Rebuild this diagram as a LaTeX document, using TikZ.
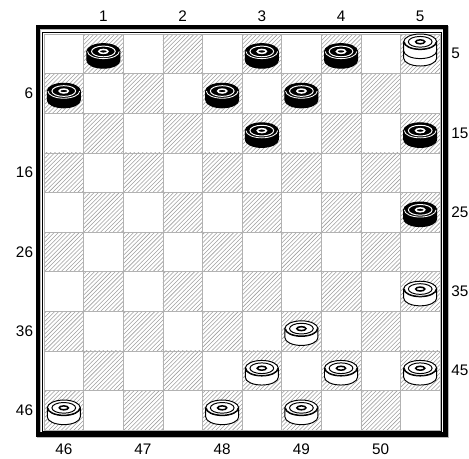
\documentclass[tikz,border=0pt]{standalone}
\usepackage{fontspec}
\setmainfont{Liberation Sans}
\usetikzlibrary{patterns}
\tikzset{
  casilla/.style={draw=gray!60, line width=0.4pt},
  casillaoscura/.style={casilla, pattern=north east lines, pattern color=gray!75},
  numero/.style={font=\fontsize{11}{13}\selectfont, inner sep=0pt},
  % ---- ficha: #1 relleno, #2 color de los anillos ----
  pics/ficha/.style 2 args={code={
    \filldraw[fill=#1, draw=black, line width=0.7pt]
      (-0.417,0.06) -- (-0.417,-0.167)
      arc[start angle=180, end angle=360, x radius=0.417, y radius=0.197]
      -- (0.417,0.06) -- cycle;
    \filldraw[fill=#1, draw=black, line width=0.7pt] (0,0.06) ellipse[x radius=0.417, y radius=0.197];
    \draw[#2, line width=0.6pt] (-0.40,0.06)
      arc[start angle=180, end angle=360, x radius=0.40, y radius=0.182];
    \draw[#2, line width=0.7pt] (0,0.06) ellipse[x radius=0.30, y radius=0.135];
    \draw[#2, line width=1.1pt] (0,0.06) ellipse[x radius=0.115, y radius=0.05];
  }},
}

\begin{document}
\begin{tikzpicture}
  \useasboundingbox (-1.111,-0.707) rectangle (10.732,10.859);

  % casillas
  \foreach \r in {1,...,10}
    \foreach \c in {1,...,10}{
      \ifodd\numexpr\r+\c\relax
        \path[casillaoscura] (\c-1,10-\r) rectangle (\c,11-\r);
      \else
        \path[casilla] (\c-1,10-\r) rectangle (\c,11-\r);
      \fi
    }

  % marco
  \draw[black, line width=0.9pt] (-0.04,-0.04) rectangle (10.04,10.04);
  \draw[gray!55, line width=3.2pt] (-0.12,-0.145) rectangle (10.17,10.145);
  \draw[black, line width=3.2pt] (-0.152,-0.114) rectangle (10.14,10.177);

  % numeracion
  \foreach \n [count=\i] in {1,2,3,4,5}
    \node[numero] (arr\n) at (2*\i-0.5,10.45) {\n};
  \foreach \n [count=\i] in {46,47,48,49,50}
    \node[numero] (aba\n) at (2*\i-1.5,-0.48) {\n};
  \foreach \n [count=\i] in {6,16,26,36,46}
    \node[numero, anchor=east] (izq\n) at (-0.27,10.5-2*\i) {\n};
  \foreach \n [count=\i] in {5,15,25,35,45}
    \node[numero, anchor=west] (der\n) at (10.28,11.5-2*\i) {\n};

  % fichas negras
  \foreach \c/\r in {2/1,6/1,8/1,1/2,5/2,7/2,6/3,10/3,10/5}
    \pic at (\c-0.5,10.5-\r) {ficha={black}{white}};

  % fichas blancas
  \foreach \c/\r in {10/7,7/8,6/9,8/9,10/9,1/10,5/10,7/10}
    \pic at (\c-0.5,10.5-\r) {ficha={white}{black}};

  % dama blanca
  \pic at (9.5,9.556) {ficha={white}{black}};
  \pic at (9.5,9.743) {ficha={white}{black}};
\end{tikzpicture}
\end{document}
